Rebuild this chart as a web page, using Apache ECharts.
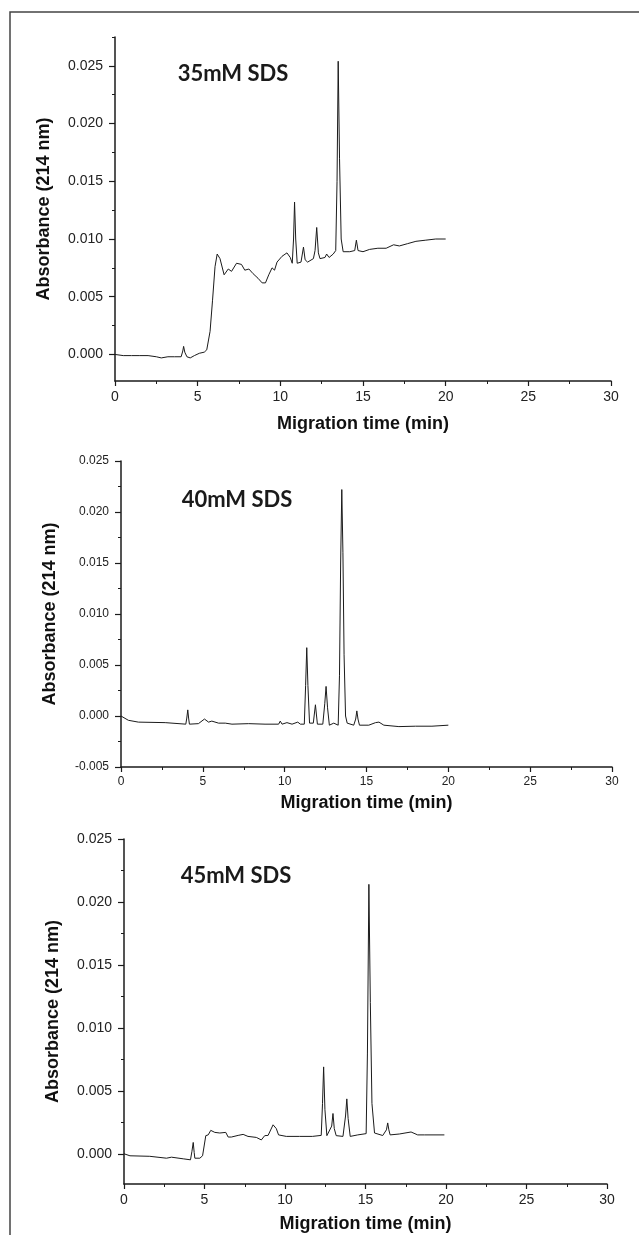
<!DOCTYPE html>
<html>
<head>
<meta charset="utf-8">
<script src="https://cdn.jsdelivr.net/npm/echarts@6/dist/echarts.min.js"></script>
<style>
html,body{margin:0;padding:0;background:#fff;}
#c{width:639px;height:1235px;}
</style>
</head>
<body>
<div id="c"></div>
<script>
// ---- data ----
const panelTitles = ['35mM SDS', '40mM SDS', '45mM SDS'];
const xTitle = 'Migration time (min)';
const yTitle = 'Absorbance (214 nm)';
const xMajor = [0, 5, 10, 15, 20, 25, 30];
const xMinor = [2.5, 7.5, 12.5, 17.5, 22.5, 27.5];
const yMajor1 = [0, 0.005, 0.010, 0.015, 0.020, 0.025];
const yMinor1 = [0.0025, 0.0075, 0.0125, 0.0175, 0.0225, 0.0275];
const yMajor2 = [-0.005, 0, 0.005, 0.010, 0.015, 0.020, 0.025];
const yMinor2 = [-0.0025, 0.0025, 0.0075, 0.0125, 0.0175, 0.0225];
const yMajor3 = [0, 0.005, 0.010, 0.015, 0.020, 0.025];
const yMinor3 = [0.0025, 0.0075, 0.0125, 0.0175, 0.0225];

// 35 mM SDS
const t1 = [0,0.5,1.0,1.5,2.0,2.5,2.8,3.2,3.6,4.0,4.1,4.15,4.22,4.35,4.55,4.8,5.1,5.4,5.55,5.75,5.9,6.05,6.18,6.35,6.6,6.85,7.05,7.35,7.65,7.85,8.1,8.35,8.65,8.9,9.1,9.3,9.5,9.65,9.8,10.1,10.4,10.6,10.72,10.8,10.86,10.93,11.02,11.25,11.4,11.5,11.65,12.0,12.1,12.2,12.3,12.4,12.7,12.8,12.95,13.2,13.35,13.43,13.5,13.58,13.68,13.8,14.2,14.5,14.6,14.7,15.0,15.4,15.9,16.4,16.85,17.2,17.7,18.2,18.8,19.4,20.0];
const v1 = [0.0000,-0.0001,-0.0001,-0.0001,-0.0001,-0.0002,-0.0003,-0.0002,-0.0002,-0.0002,0.0003,0.0007,0.0002,-0.0002,-0.0003,-0.0001,0.0001,0.0002,0.0004,0.0020,0.0047,0.0076,0.0087,0.0083,0.0069,0.0074,0.0072,0.0079,0.0078,0.0073,0.0074,0.0070,0.0066,0.0062,0.0062,0.0069,0.0075,0.0073,0.0080,0.0085,0.0088,0.0084,0.0079,0.0100,0.0132,0.0100,0.0079,0.0080,0.0093,0.0082,0.0080,0.0083,0.0090,0.0110,0.0088,0.0083,0.0084,0.0087,0.0084,0.0087,0.0090,0.0150,0.0254,0.0170,0.0100,0.0089,0.0089,0.0090,0.0099,0.0090,0.0089,0.0091,0.0092,0.0092,0.0095,0.0094,0.0096,0.0098,0.0099,0.0100,0.0100];

// 40 mM SDS
const t2 = [0,0.45,1.06,2.7,3.96,4.02,4.08,4.13,4.18,4.73,5.1,5.35,5.55,5.96,6.37,6.78,7.8,8.8,9.63,9.73,9.84,10.14,10.45,10.8,10.96,11.2,11.28,11.35,11.42,11.52,11.6,11.75,11.88,12.0,12.33,12.45,12.53,12.62,12.73,13.0,13.27,13.35,13.42,13.49,13.56,13.63,13.72,13.82,14.22,14.34,14.41,14.48,14.57,15.14,15.55,15.76,16.06,16.98,18.0,19.0,20.0];
const v2 = [0.0000,-0.00042,-0.0006,-0.00065,-0.0008,-0.0002,0.0006,-0.0002,-0.0008,-0.00075,-0.0003,-0.0006,-0.0005,-0.0007,-0.0007,-0.0008,-0.00075,-0.0008,-0.0008,-0.0005,-0.0008,-0.00065,-0.0008,-0.0006,-0.0008,-0.0008,0.0030,0.0067,0.0030,-0.0007,-0.0008,-0.0007,0.0011,-0.0008,-0.0008,0.0012,0.0029,0.0008,-0.0009,-0.0007,-0.0009,0.0040,0.0150,0.0222,0.0160,0.0060,0.0000,-0.0007,-0.0009,-0.0003,0.0005,-0.0003,-0.0009,-0.0009,-0.00065,-0.0006,-0.0009,-0.00104,-0.0010,-0.0010,-0.0009];

// 45 mM SDS
const t3 = [0,0.37,1.6,2.64,2.95,3.68,4.13,4.22,4.3,4.36,4.4,4.71,4.88,5.08,5.23,5.39,5.64,5.95,6.32,6.47,6.67,7.09,7.4,7.7,8.22,8.53,8.74,8.95,9.26,9.46,9.6,10.08,10.9,11.7,12.25,12.33,12.4,12.48,12.6,12.9,12.98,13.06,13.18,13.6,13.76,13.84,13.92,14.05,14.52,15.04,15.12,15.21,15.3,15.4,15.56,16.07,16.3,16.38,16.45,16.53,17.1,17.83,18.24,18.66,19.9];
const v3 = [0.0000,-0.00016,-0.0002,-0.00035,-0.00027,-0.0004,-0.00048,0.0002,0.0009,0.0001,-0.00035,-0.00035,-0.00016,0.00144,0.0015,0.00186,0.0017,0.00165,0.0017,0.00133,0.00133,0.00146,0.00154,0.00138,0.0013,0.0011,0.00144,0.00146,0.0023,0.0020,0.0015,0.00138,0.00138,0.00138,0.00146,0.0040,0.0069,0.0035,0.00144,0.0022,0.0032,0.0020,0.00144,0.00138,0.0030,0.00436,0.0028,0.00138,0.0015,0.0016,0.0080,0.0214,0.0120,0.0040,0.00165,0.00145,0.0019,0.00245,0.0019,0.0015,0.00157,0.00173,0.0015,0.0015,0.0015];

// ---- chart ----
const INK = '#1b1b1b';
const grids = [
  {left: 115, top: 37, width: 496, height: 344},
  {left: 121, top: 461, width: 491, height: 306},
  {left: 124, top: 839, width: 483, height: 345}
];
const yRanges = [[-0.0023, 0.0275], [-0.005, 0.025], [-0.0024, 0.025]];
const yMajors = [yMajor1, yMajor2, yMajor3];
const yMinors = [yMinor1, yMinor2, yMinor3];
const labelSize = [14, 12, 14];
const xNameGap = [34, 27, 31];
const titlePos = [[233, 74], [237, 500], [236, 876]];
const series = [[t1, v1], [t2, v2], [t3, v3]];

function fmtY(v) {
  return Math.abs(v) < 1e-9 ? '0.000' : v.toFixed(3);
}

const xAxis = [], yAxis = [], seriesOpt = [], graphic = [];
grids.forEach((g, i) => {
  const lab = {fontFamily: 'Liberation Sans, Arial, sans-serif', fontSize: labelSize[i], color: '#222'};
  xAxis.push({
    type: 'value', gridIndex: i, min: 0, max: 30, position: 'bottom',
    name: xTitle, nameLocation: 'middle', nameGap: xNameGap[i],
    nameTextStyle: {fontFamily: 'Liberation Sans, Arial, sans-serif', fontWeight: 'bold', fontSize: 18, color: '#111'},
    axisLine: {show: true, onZero: false, lineStyle: {color: INK, width: 1.5}},
    axisTick: {show: true, length: 5, lineStyle: {color: INK, width: 1.2}, customValues: xMajor},
    axisLabel: Object.assign({margin: 9, customValues: xMajor, formatter: v => String(v)}, lab),
    splitLine: {show: false}
  });
  xAxis.push({
    type: 'value', gridIndex: i, min: 0, max: 30, position: 'bottom',
    axisLine: {show: false, onZero: false},
    axisTick: {show: true, length: 3, lineStyle: {color: INK, width: 1}, customValues: xMinor},
    axisLabel: {show: false},
    splitLine: {show: false}
  });
  yAxis.push({
    type: 'value', gridIndex: i, min: yRanges[i][0], max: yRanges[i][1], position: 'left',
    name: yTitle, nameLocation: 'middle', nameRotate: 90, nameGap: 62,
    nameTextStyle: {fontFamily: 'Liberation Sans, Arial, sans-serif', fontWeight: 'bold', fontSize: 18, color: '#111'},
    axisLine: {show: true, onZero: false, lineStyle: {color: INK, width: 1.5}},
    axisTick: {show: true, length: 6, lineStyle: {color: INK, width: 1.2}, customValues: yMajors[i]},
    axisLabel: Object.assign({margin: 12, customValues: yMajors[i], formatter: fmtY}, lab),
    splitLine: {show: false}
  });
  yAxis.push({
    type: 'value', gridIndex: i, min: yRanges[i][0], max: yRanges[i][1], position: 'left',
    axisLine: {show: false, onZero: false},
    axisTick: {show: true, length: 3, lineStyle: {color: INK, width: 1}, customValues: yMinors[i]},
    axisLabel: {show: false},
    splitLine: {show: false}
  });
  seriesOpt.push({
    type: 'line', xAxisIndex: 2 * i, yAxisIndex: 2 * i,
    data: series[i][0].map((t, k) => [t, series[i][1][k]]),
    showSymbol: false, symbol: 'none', smooth: false,
    lineStyle: {color: INK, width: 1}, animation: false, silent: true
  });
  graphic.push({
    type: 'text', x: titlePos[i][0], y: titlePos[i][1],
    style: {text: panelTitles[i], font: 'bold 22px Lato, "Open Sans", sans-serif', fill: '#1a1a1a', align: 'center', verticalAlign: 'middle'}
  });
});
graphic.push({
  type: 'polyline',
  shape: {points: [[10, 1240], [10, 12], [645, 12]]},
  style: {stroke: '#444', lineWidth: 1.5, fill: null}
});

const chart = echarts.init(document.getElementById('c'), null, {renderer: 'canvas'});
chart.setOption({
  animation: false,
  backgroundColor: '#fff',
  grid: grids.map(g => Object.assign({containLabel: false}, g)),
  xAxis: xAxis,
  yAxis: yAxis,
  series: seriesOpt,
  graphic: graphic
});
</script>
</body>
</html>
